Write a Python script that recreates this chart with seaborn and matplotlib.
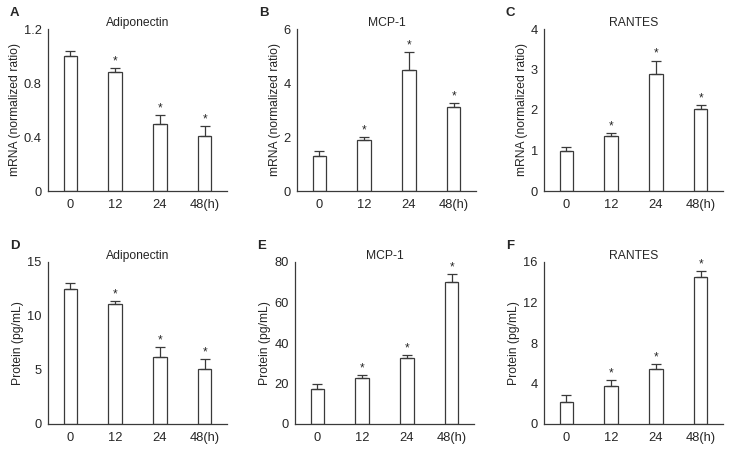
import numpy as np
import pandas as pd
import matplotlib
matplotlib.use('Agg')
import matplotlib.pyplot as plt
import seaborn as sns

times = ['0', '12', '24', '48(h)']

# mRNA (normalized ratio)
adipo_mrna = [1.00, 0.88, 0.50, 0.41]
adipo_mrna_err = [0.04, 0.03, 0.065, 0.07]
mcp_mrna = [1.30, 1.88, 4.50, 3.10]
mcp_mrna_err = [0.18, 0.12, 0.65, 0.15]
rantes_mrna = [1.00, 1.35, 2.90, 2.03]
rantes_mrna_err = [0.08, 0.08, 0.32, 0.09]

# protein (pg/mL)
adipo_prot = [12.5, 11.1, 6.2, 5.05]
adipo_prot_err = [0.6, 0.3, 0.9, 0.95]
mcp_prot = [17.5, 22.5, 32.5, 70.0]
mcp_prot_err = [2.3, 1.5, 1.5, 4.0]
rantes_prot = [2.2, 3.8, 5.4, 14.5]
rantes_prot_err = [0.7, 0.5, 0.5, 0.6]

stars = [False, True, True, True]

sns.set_theme(style='white')
plt.rcParams['font.family'] = ['Liberation Sans', 'DejaVu Sans']

W, H = 731, 450
fig = plt.figure(figsize=(W / 100, H / 100), dpi=100)

panels = [
    ('A', 'Adiponectin', adipo_mrna, adipo_mrna_err, 'mRNA (normalized ratio)', 1.2, [0, 0.4, 0.8, 1.2], ['0', '0.4', '0.8', '1.2'], 48, 29),
    ('B', 'MCP-1', mcp_mrna, mcp_mrna_err, 'mRNA (normalized ratio)', 6, [0, 2, 4, 6], None, 297, 29),
    ('C', 'RANTES', rantes_mrna, rantes_mrna_err, 'mRNA (normalized ratio)', 4, [0, 1, 2, 3, 4], None, 544, 29),
    ('D', 'Adiponectin', adipo_prot, adipo_prot_err, 'Protein (pg/mL)', 15, [0, 5, 10, 15], None, 48, 262),
    ('E', 'MCP-1', mcp_prot, mcp_prot_err, 'Protein (pg/mL)', 80, [0, 20, 40, 60, 80], None, 295, 262),
    ('F', 'RANTES', rantes_prot, rantes_prot_err, 'Protein (pg/mL)', 16, [0, 4, 8, 12, 16], None, 544, 262),
]

ax_w, ax_h = 179, 162
edge = '#3a3a3a'

for letter, title, vals, errs, ylabel, ymax, yticks, yticklabels, left, top in panels:
    ax = fig.add_axes([left / W, (H - top - ax_h) / H, ax_w / W, ax_h / H])
    df = pd.DataFrame({'time': times, 'value': vals})
    sns.barplot(data=df, x='time', y='value', ax=ax, color='white',
                edgecolor=edge, linewidth=0.9, width=0.3, errorbar=None)
    ax.errorbar(np.arange(len(vals)), vals, yerr=[np.zeros(len(vals)), errs],
                fmt='none', ecolor=edge, elinewidth=0.9, capsize=3.5, capthick=0.9)
    for i, (v, e) in enumerate(zip(vals, errs)):
        if stars[i]:
            ax.annotate('*', (i, v + e), xytext=(0, 0.5), textcoords='offset points',
                        ha='center', va='bottom', fontsize=8.5)
    ax.set_xlim(-0.5, 3.5)
    ax.set_ylim(0, ymax)
    ax.set_yticks(yticks)
    if yticklabels:
        ax.set_yticklabels(yticklabels)
    ax.set_xticks(np.arange(-0.5, 4, 1), minor=True)
    ax.tick_params(axis='x', which='major', length=0, pad=6, labelsize=9.3)
    ax.tick_params(axis='x', which='minor', length=3, width=0.8, color=edge, direction='out')
    ax.tick_params(axis='y', length=2.5, width=0.8, color=edge, direction='out', pad=2, labelsize=9.3)
    ax.set_xlabel('')
    ax.set_ylabel(ylabel, fontsize=8.7, labelpad=2)
    ax.set_title(title, fontsize=8.7, pad=2)
    sns.despine(ax=ax)
    for s in ['left', 'bottom']:
        ax.spines[s].set_color(edge)
        ax.spines[s].set_linewidth(0.9)
    fig.text((left - 38) / W, 1 - (top - 16) / H, letter, fontsize=9.5,
             fontweight='bold', ha='left', va='center')

fig.savefig('out.png', dpi=100)
